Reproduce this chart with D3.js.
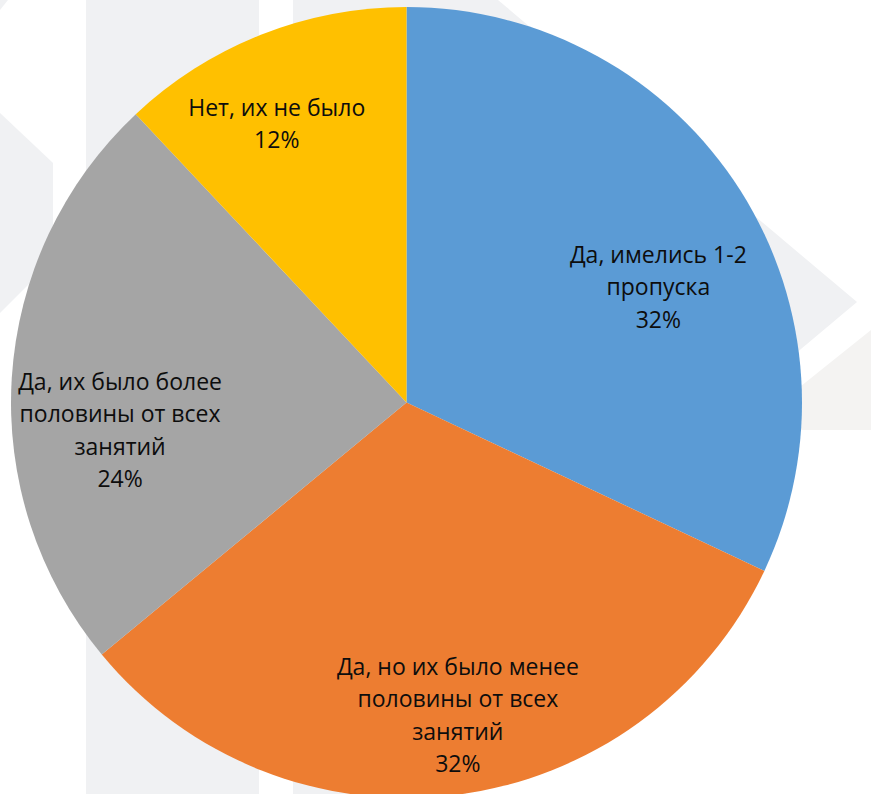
<!DOCTYPE html>
<html>
<head>
<meta charset="utf-8">
<script src="https://cdn.jsdelivr.net/npm/d3@7"></script>
<style>
  html, body { margin: 0; padding: 0; background: #ffffff; overflow: hidden; }
  svg { display: block; }
</style>
</head>
<body>
<svg id="chart" width="871" height="794"></svg>
<script>
// ---- Data ----
const categories = [
  "Да, имелись 1-2 пропуска",
  "Да, но их было менее половины от всех занятий",
  "Да, их было более половины от всех занятий",
  "Нет, их не было"
];
const values = [32, 32, 24, 12];
const labelLines = [
  ["Да, имелись 1-2", "пропуска"],
  ["Да, но их было менее", "половины от всех", "занятий"],
  ["Да, их было более", "половины от всех", "занятий"],
  ["Нет, их не было"]
];
const colors = ["#5b9bd5", "#ed7d31", "#a5a5a5", "#ffc000"];

// ---- Layout ----
const W = 871, H = 794;
const cx = 406.5, cy = 402.5, R = 395.5;
const labelRadius = 290;
const labelNudge = [[7, 40], [15, 25], [3, 46], [-23, -9]];
const lineH = 32.5;

const svg = d3.select("#chart");

// Background watermark shapes (decorative)
const bg = svg.append("g");
const wm = "#f0f1f3";
bg.append("rect").attr("x", 86).attr("y", 0).attr("width", 173).attr("height", H).attr("fill", wm);
bg.append("rect").attr("x", 293).attr("y", 0).attr("width", 173).attr("height", H).attr("fill", wm);
bg.append("polygon").attr("points", "498,0 857,302 700,434 420,0").attr("fill", wm);
bg.append("polygon").attr("points", "746,430 871,430 871,330").attr("fill", "#f4f3f2");
bg.append("polygon").attr("points", "0,113 53,163 53,260 0,313").attr("fill", wm);
bg.append("polygon").attr("points", "0,0 8,0 0,10").attr("fill", wm);

const g = svg.append("g").attr("transform", `translate(${cx},${cy})`);

const pie = d3.pie().sort(null).value(d => d)(values);
const arc = d3.arc().innerRadius(0).outerRadius(R);
const labelArc = d3.arc().innerRadius(labelRadius).outerRadius(labelRadius);

g.selectAll("path.slice")
  .data(pie)
  .join("path")
  .attr("class", "slice")
  .attr("d", arc)
  .attr("fill", (d, i) => colors[i]);

g.selectAll("text.lbl")
  .data(pie)
  .join("text")
  .attr("class", "lbl")
  .attr("text-anchor", "middle")
  .attr("font-family", "'Open Sans', 'Noto Sans', sans-serif")
  .attr("font-size", 23)
  .attr("fill", "#0d0d0d")
  .each(function(d, i) {
    const [x, y] = labelArc.centroid(d);
    const lines = labelLines[i].concat([d.data + "%"]);
    const bx = x + labelNudge[i][0];
    const by = y + labelNudge[i][1] - (lines.length - 1) * lineH / 2;
    const t = d3.select(this);
    lines.forEach((ln, k) => {
      t.append("tspan")
        .attr("x", bx)
        .attr("y", by + k * lineH)
        .attr("dy", "0.35em")
        .text(ln);
    });
  });
</script>
</body>
</html>
